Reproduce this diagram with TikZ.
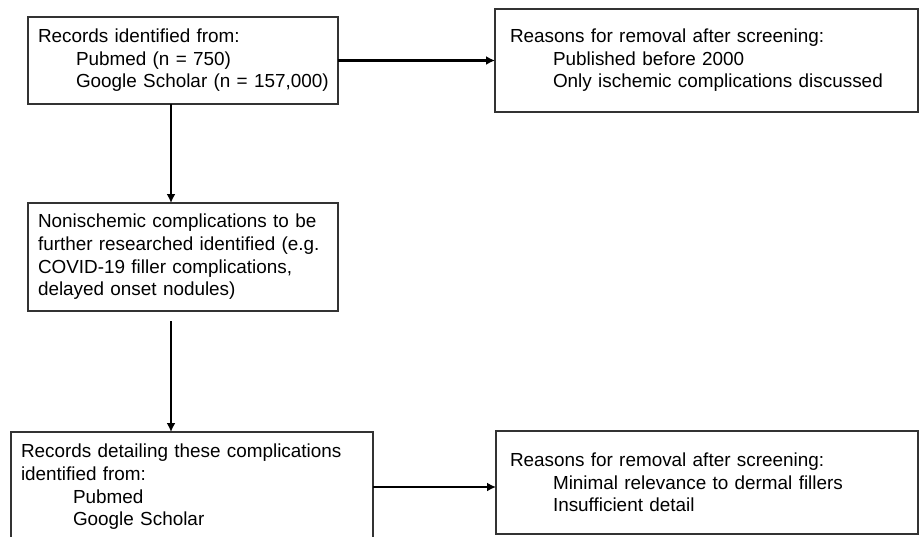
\documentclass[tikz,border=0pt]{standalone}
\usepackage{fontspec}
\setmainfont{Liberation Sans}
\usetikzlibrary{arrows.meta, positioning}

\begin{document}
\begin{tikzpicture}
      \tikzstyle{element}=[rectangle, draw=black!80, line width=0.75pt, inner ysep=2pt, outer sep=0pt, align=left, font=\fontsize{9.45}{11.3}\selectfont]
      \tikzstyle{flow}=[line width=1.1pt, -{Latex[length=4.5pt, width=4.5pt]}]
      \clip (0,0) rectangle (459.5pt,-268pt);
      \node[element, inner xsep=5pt, text width=145pt, minimum height=43.5pt] (records) at (91.5pt,-30.25pt) {Records identified from:\\\hspace*{19pt}Pubmed (n = 750)\\\hspace*{19pt}Google~Scholar~(n~=~157,000)};
      \node[element, inner xsep=5pt, text width=145pt, minimum height=54pt, below=49.5pt of records] (further) {Nonischemic complications to be\\further researched identified (e.g.\\COVID-19 filler complications,\\delayed onset nodules)};
      \node[element, inner xsep=5pt, text width=171pt, minimum height=55pt, below=60.5pt of further, xshift=4.5pt] (detailing) {Records detailing these complications\\identified from:\\\hspace*{26pt}Pubmed\\\hspace*{26pt}Google Scholar};
      \node[element, inner xsep=7.5pt, text width=196.5pt, minimum height=51.5pt, right=78.5pt of records] (removal1) {Reasons for removal after screening:\\\hspace*{21.5pt}Published before 2000\\\hspace*{21.5pt}Only ischemic complications discussed};
      \node[element, inner xsep=7pt, text width=197pt, minimum height=51.5pt, right=61.5pt of detailing, yshift=2.25pt] (removal2) {Reasons for removal after screening:\\\hspace*{21.5pt}Minimal relevance to dermal fillers\\\hspace*{21.5pt}Insufficient detail};
      \draw[flow] ([xshift=-6pt]records.south) -- ([xshift=-6pt]records.south |- further.north);
      \draw[flow] ([xshift=-6pt, yshift=-5pt]further.south) -- ([xshift=-6pt]further.south |- detailing.north);
      \draw[flow] (records.east) -- (records.east -| removal1.west);
      \draw[flow] (detailing.east) -- (detailing.east -| removal2.west);
\end{tikzpicture}
\end{document}
